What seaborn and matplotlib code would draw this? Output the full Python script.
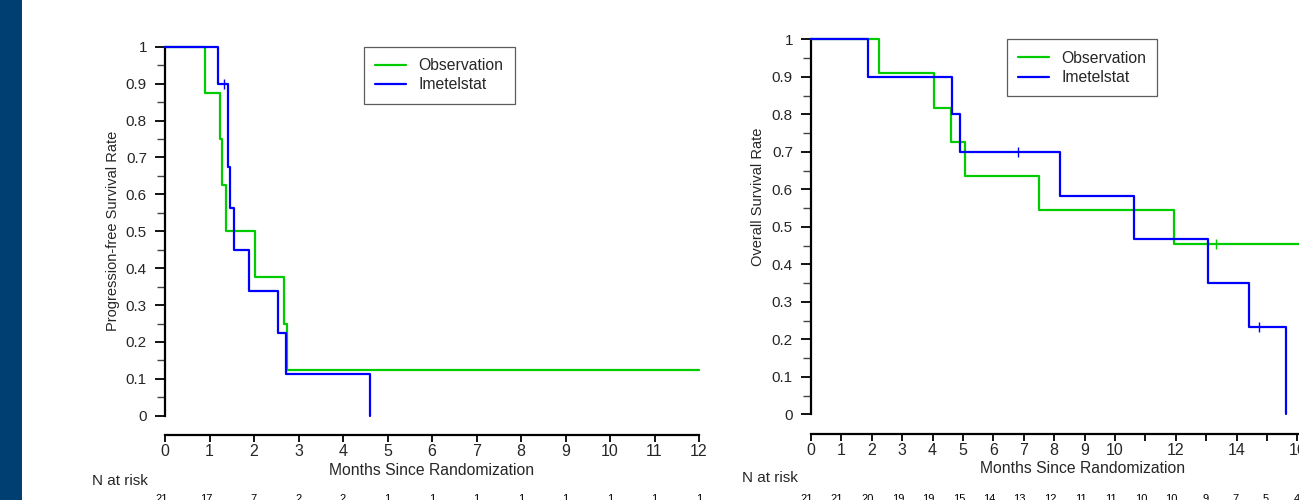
import numpy as np
import pandas as pd
import matplotlib
matplotlib.use("Agg")
import matplotlib.pyplot as plt
import matplotlib.transforms as mtransforms
from matplotlib.patches import Rectangle
from matplotlib.ticker import MultipleLocator, FixedLocator, FixedFormatter
import seaborn as sns

# ---------------- data ----------------
series_names = ["Observation", "Imetelstat"]
series_colors = ["#00CC00", "#0000FF"]

# Progression-free survival (left panel)
pfs_obs_months = [0.0, 0.90, 1.24, 1.28, 1.37, 2.03, 2.68, 2.75, 12.0]
pfs_obs_rate = [1.0, 0.875, 0.75, 0.625, 0.5, 0.375, 0.25, 0.125, 0.125]
pfs_ime_months = [0.0, 1.20, 1.42, 1.47, 1.56, 1.89, 2.55, 2.73, 4.61]
pfs_ime_rate = [1.0, 0.9, 0.675, 0.5625, 0.45, 0.3375, 0.225, 0.1125, 0.0]
pfs_ime_censor_months = [1.33]
pfs_ime_censor_rate = [0.9]
pfs_risk_months = list(range(0, 13))
pfs_risk_counts = [21, 17, 7, 2, 2, 1, 1, 1, 1, 1, 1, 1, 1]

# Overall survival (right panel)
os_obs_months = [0.0, 2.25, 4.03, 4.62, 5.07, 7.51, 11.94, 18.0]
os_obs_rate = [1.0, 0.909, 0.818, 0.727, 0.636, 0.545, 0.4545, 0.4545]
os_obs_censor_months = [13.32]
os_obs_censor_rate = [0.4545]
os_ime_months = [0.0, 1.89, 4.65, 4.90, 8.19, 10.64, 13.07, 14.42, 15.61]
os_ime_rate = [1.0, 0.9, 0.8, 0.7, 0.5833, 0.4667, 0.35, 0.2333, 0.0]
os_ime_censor_months = [6.81, 14.74]
os_ime_censor_rate = [0.7, 0.2333]
os_risk_months = list(range(0, 17))
os_risk_counts = [21, 21, 20, 19, 19, 15, 14, 13, 12, 11, 11, 10, 10, 9, 7, 5, 4]

x_label = "Months Since Randomization"
pfs_ylabel = "Progression-free Survival Rate"
os_ylabel = "Overall Survival Rate"
risk_label = "N at risk"

# ---------------- style ----------------
sns.set_style("white")
plt.rcParams["font.family"] = ["Liberation Sans", "DejaVu Sans"]

W, H = 1299, 500
fig = plt.figure(figsize=(W / 100, H / 100), dpi=100)
fig.patch.set_facecolor("white")
fig.patches.append(Rectangle((0, 0), 22 / W, 1, transform=fig.transFigure,
                             facecolor="#003F72", edgecolor="none", zorder=0))


def px_axes(x0, x1, ytop, ybot):
    return fig.add_axes([x0 / W, (H - ybot) / H, (x1 - x0) / W, (ybot - ytop) / H])


def style_axes(ax, xmax, xticks, xticklabels, ylabel):
    ax.set_facecolor("none")
    ax.set_xlim(0, xmax)
    ax.set_ylim(0, 1)
    for s in ["top", "right"]:
        ax.spines[s].set_visible(False)
    for s in ["left", "bottom"]:
        ax.spines[s].set_linewidth(1.6)
        ax.spines[s].set_color("black")
    ax.spines["bottom"].set_position(("outward", 14))
    ax.spines["bottom"].set_bounds(0, xmax)
    ax.yaxis.set_major_locator(MultipleLocator(0.1))
    ax.yaxis.set_minor_locator(MultipleLocator(0.05))
    ax.yaxis.set_major_formatter(matplotlib.ticker.FuncFormatter(lambda v, p: f"{v:g}"))
    ax.xaxis.set_major_locator(FixedLocator(xticks))
    ax.xaxis.set_major_formatter(FixedFormatter(xticklabels))
    ax.tick_params(axis="y", which="major", direction="out", length=7.5, width=1.3,
                   pad=5.5, labelsize=11, color="black", left=True)
    ax.tick_params(axis="y", which="minor", direction="out", length=6, width=1.0,
                   color="#444444", left=True)
    ax.tick_params(axis="x", which="major", direction="out", length=5, width=1.3,
                   pad=1.5, labelsize=11.5, color="black", bottom=True)
    ax.set_xlabel(x_label, fontsize=11.3)
    ax.xaxis.label.set_va("center")
    ax.set_ylabel(ylabel, fontsize=10.5)
    ax.yaxis.label.set_va("center")
    ax.grid(False)


def draw_curves(ax, curves, censors):
    for (name, color, t, s) in curves:
        df = pd.DataFrame({"Months": t, "Rate": s})
        sns.lineplot(data=df, x="Months", y="Rate", ax=ax, estimator=None, sort=False,
                     drawstyle="steps-post", color=color, linewidth=1.6,
                     label=name, clip_on=False, zorder=3)
    for (color, t, s) in censors:
        df = pd.DataFrame({"Months": t, "Rate": s})
        sns.scatterplot(data=df, x="Months", y="Rate", ax=ax, marker="|", s=45,
                        color=color, linewidth=1.0, clip_on=False, zorder=4, legend=False)


def risk_row(ax, months, counts, label_x_px, label_y_px, dx_px):
    trans = mtransforms.blended_transform_factory(ax.transData, fig.transFigure)
    off = mtransforms.ScaledTranslation(dx_px / 100, 0, fig.dpi_scale_trans)
    for m, c in zip(months, counts):
        ax.text(m, (H - 493.5) / H, str(c), transform=trans + off, ha="right", va="top",
                fontsize=8, color="black")
    fig.text(label_x_px / W, (H - label_y_px) / H, risk_label, ha="left", va="center",
             fontsize=11)


def add_legend(ax, x_px, y_px):
    handles, labels = ax.get_legend_handles_labels()
    leg = ax.legend(handles[:2], labels[:2], loc="upper left",
                    bbox_to_anchor=(x_px / W, 1 - y_px / H), bbox_transform=fig.transFigure,
                    borderaxespad=0, fontsize=11.3, frameon=True, fancybox=False,
                    handlelength=1.95, handletextpad=0.8, borderpad=0.72,
                    labelspacing=0.28)
    leg.get_frame().set_edgecolor("#333333")
    leg.get_frame().set_linewidth(0.9)
    for ln in leg.get_lines():
        ln.set_linewidth(1.6)


# ---------------- left panel ----------------
ax1 = px_axes(165, 699, 46.7, 415.8)
draw_curves(ax1,
            [(series_names[0], series_colors[0], pfs_obs_months, pfs_obs_rate),
             (series_names[1], series_colors[1], pfs_ime_months, pfs_ime_rate)],
            [(series_colors[1], pfs_ime_censor_months, pfs_ime_censor_rate)])
style_axes(ax1, 12, list(range(0, 13)), [str(i) for i in range(0, 13)], pfs_ylabel)
ax1.yaxis.set_label_coords(-0.0974, 0.5)
ax1.xaxis.set_label_coords(0.5, -0.1475)
add_legend(ax1, 364, 46.7)
risk_row(ax1, pfs_risk_months, pfs_risk_counts, 92, 481, 3)

# ---------------- right panel ----------------
os_ticks = list(range(0, 19))
os_ticklabels = [str(i) if (i <= 10 or i % 2 == 0) else "" for i in os_ticks]
ax2 = px_axes(811, 811 + 18 * 30.4, 39.3, 414.3)
draw_curves(ax2,
            [(series_names[0], series_colors[0], os_obs_months, os_obs_rate),
             (series_names[1], series_colors[1], os_ime_months, os_ime_rate)],
            [(series_colors[0], os_obs_censor_months, os_obs_censor_rate),
             (series_colors[1], os_ime_censor_months, os_ime_censor_rate)])
style_axes(ax2, 18, os_ticks, os_ticklabels, os_ylabel)
ax2.yaxis.set_label_coords(-0.0963, 0.58)
ax2.xaxis.set_label_coords(0.497, -0.1455)
add_legend(ax2, 1006.7, 39.3)
risk_row(ax2, os_risk_months, os_risk_counts, 742, 478, 2)

fig.savefig("out.png", dpi=100)
